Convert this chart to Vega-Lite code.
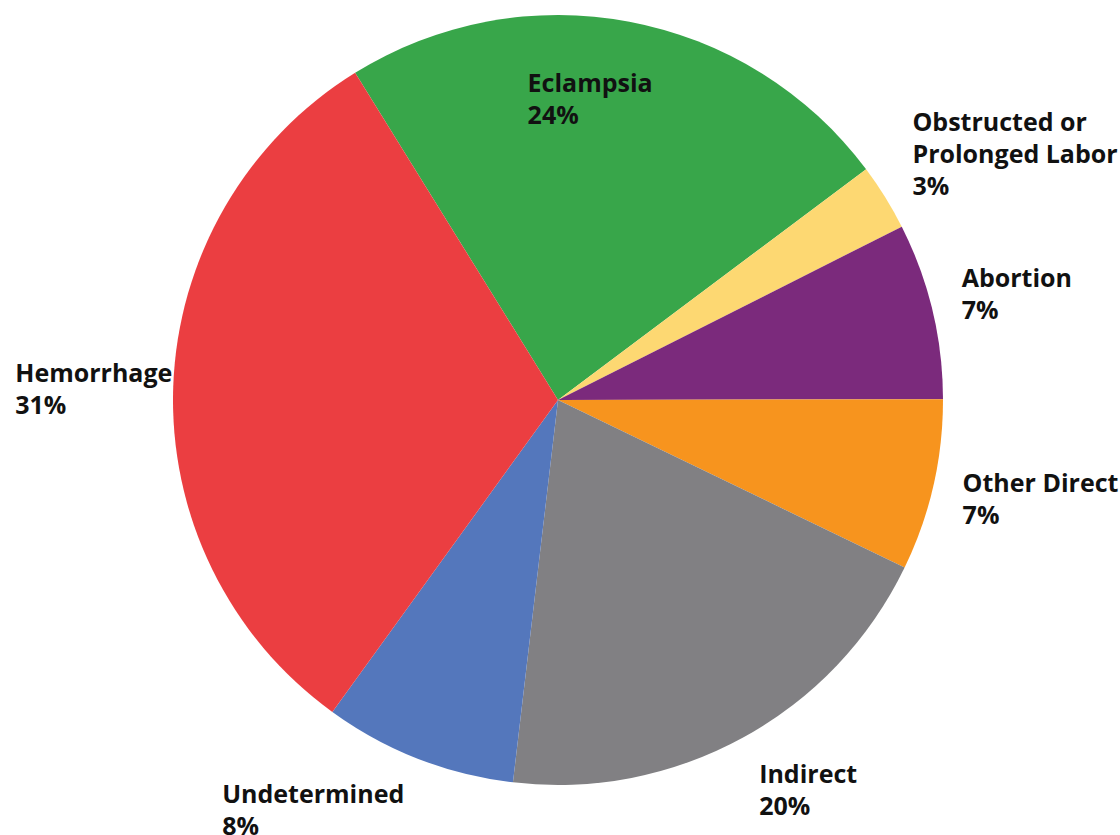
{
  "$schema": "https://vega.github.io/schema/vega-lite/v6.json",
  "width": 1116,
  "height": 800,
  "padding": {"left": 0, "top": 0, "right": 4, "bottom": 35},
  "autosize": {"type": "none"},
  "background": "white",
  "config": {"view": {"stroke": null}, "text": {"font": "Open Sans", "fontWeight": "bold", "fontSize": 25, "lineHeight": 32, "color": "#111111"}},
  "data": {
    "values": [
      {"order": 1, "cause": "Eclampsia", "name": "Eclampsia", "pct": 23.6},
      {"order": 2, "cause": "Obstructed", "name": "Obstructed or\nProlonged Labor", "pct": 2.8},
      {"order": 3, "cause": "Abortion", "name": "Abortion", "pct": 7.4},
      {"order": 4, "cause": "Other Direct", "name": "Other Direct", "pct": 7.2},
      {"order": 5, "cause": "Indirect", "name": "Indirect", "pct": 19.7},
      {"order": 6, "cause": "Undetermined", "name": "Undetermined", "pct": 8.1},
      {"order": 7, "cause": "Hemorrhage", "name": "Hemorrhage", "pct": 31.2}
    ]
  },
  "transform": [
    {"calculate": "datum.name + '\\n' + format(datum.pct, '.0f') + '%'", "as": "label"}
  ],
  "encoding": {
    "theta": {"field": "pct", "type": "quantitative", "stack": true, "scale": {"range": [-0.555, 5.7282]}},
    "order": {"field": "order", "type": "quantitative"}
  },
  "layer": [
    {
      "mark": {"type": "arc", "outerRadius": 385, "stroke": null},
      "encoding": {
        "color": {
          "field": "cause", "type": "nominal", "legend": null,
          "scale": {
            "domain": ["Eclampsia", "Obstructed", "Abortion", "Other Direct", "Indirect", "Undetermined", "Hemorrhage"],
            "range": ["#38A64A", "#FDD872", "#7B2A7C", "#F7941E", "#818083", "#5477BC", "#EB3E41"]
          }
        }
      }
    },
    {
      "mark": {"type": "text", "radius": 300, "align": "left", "baseline": "middle", "dx": -86, "dy": -21, "lineBreak": "\n"},
      "encoding": {"text": {"condition": {"test": "datum.cause == 'Eclampsia'", "field": "label"}, "value": ""}}
    },
    {
      "mark": {"type": "text", "radius": 430, "align": "left", "baseline": "middle", "dx": -11, "dy": -50, "lineBreak": "\n"},
      "encoding": {"text": {"condition": {"test": "datum.cause == 'Obstructed'", "field": "label"}, "value": ""}}
    },
    {
      "mark": {"type": "text", "radius": 415, "align": "left", "baseline": "middle", "dx": 0, "dy": -25, "lineBreak": "\n"},
      "encoding": {"text": {"condition": {"test": "datum.cause == 'Abortion'", "field": "label"}, "value": ""}}
    },
    {
      "mark": {"type": "text", "radius": 415, "align": "left", "baseline": "middle", "dx": 0, "dy": -8, "lineBreak": "\n"},
      "encoding": {"text": {"condition": {"test": "datum.cause == 'Other Direct'", "field": "label"}, "value": ""}}
    },
    {
      "mark": {"type": "text", "radius": 435, "align": "left", "baseline": "middle", "dx": -8, "dy": -6, "lineBreak": "\n"},
      "encoding": {"text": {"condition": {"test": "datum.cause == 'Indirect'", "field": "label"}, "value": ""}}
    },
    {
      "mark": {"type": "text", "radius": 440, "align": "left", "baseline": "middle", "dx": -176, "dy": -15, "lineBreak": "\n"},
      "encoding": {"text": {"condition": {"test": "datum.cause == 'Undetermined'", "field": "label"}, "value": ""}}
    },
    {
      "mark": {"type": "text", "radius": 390, "align": "left", "baseline": "middle", "dx": -153, "dy": -12, "lineBreak": "\n"},
      "encoding": {"text": {"condition": {"test": "datum.cause == 'Hemorrhage'", "field": "label"}, "value": ""}}
    }
  ]
}
